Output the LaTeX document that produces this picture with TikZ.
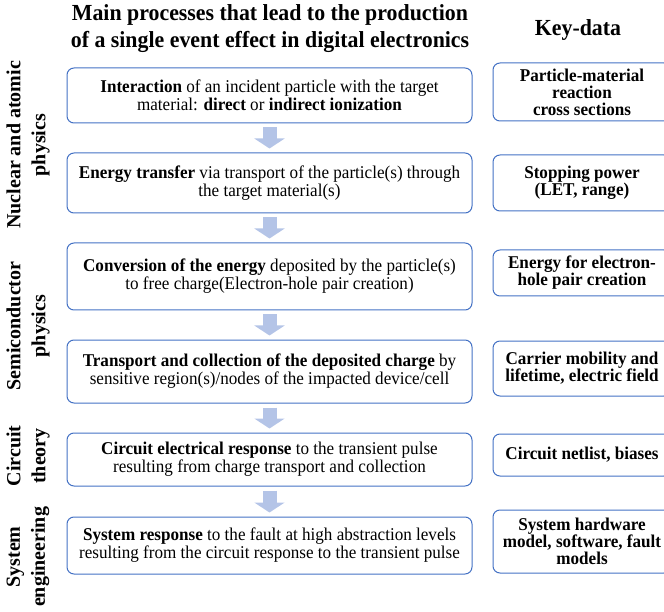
\documentclass[tikz,border=0pt]{standalone}
\usepackage{fontspec}
\setmainfont{Liberation Serif}[BoldFont={Liberation Serif Bold},FakeStretch=0.95]
\newfontfamily\sidefont{Liberation Serif}[BoldFont={Liberation Serif Bold}]
\usetikzlibrary{arrows.meta}
\definecolor{boxblue}{RGB}{68,114,196}
\definecolor{flowblue}{RGB}{180,196,231}

\begin{document}
\begin{tikzpicture}[x=1pt,y=-1pt,
    procbox/.style={draw=boxblue,line width=1pt,rounded corners=7pt,minimum width=405pt,align=center,inner xsep=3pt,font=\fontsize{18}{18}\selectfont},
    databox/.style={draw=boxblue,line width=1pt,rounded corners=7pt,minimum width=178pt,align=center,inner xsep=2pt,font=\fontsize{18}{17}\selectfont\bfseries},
    sidelabel/.style={rotate=90,align=center,font=\sidefont\bfseries\fontsize{20}{25}\selectfont},
    flowarrow/.style={color=flowblue,line width=14pt,-{Triangle[width=30pt,length=10pt]},shorten <=4pt,shorten >=4pt}]
    \clip (0,0) rectangle (664,612);

    % headings
    \node[font=\bfseries\fontsize{23}{27}\selectfont,align=center] (head) at (270,28.5) {Main processes that lead to the production\\of a single event effect in digital electronics};
    \node[font=\bfseries\fontsize{23}{27}\selectfont] (keyhead) at (578,30) {Key-data};

    % main chain
    \node[procbox,minimum height=55pt] (p1) at (269.5,95.5) {\textbf{Interaction} of an incident particle with the target\\material: \textbf{direct} or \textbf{indirect ionization}};
    \node[procbox,minimum height=60pt] (p2) at (269.5,183) {\textbf{Energy transfer} via transport of the particle(s) through\\the target material(s)};
    \node[procbox,minimum height=67pt] (p3) at (269.5,276.5) {\textbf{Conversion of the energy} deposited by the particle(s)\\to free charge(Electron-hole pair creation)};
    \node[procbox,minimum height=63pt] (p4) at (269.5,371.5) {\textbf{Transport and collection of the deposited charge} by\\sensitive region(s)/nodes of the impacted device/cell};
    \node[procbox,minimum height=53pt] (p5) at (269.5,459.5) {\textbf{Circuit electrical response} to the transient pulse\\resulting from charge transport and collection};
    \node[procbox,minimum height=57pt] (p6) at (269.5,545.5) {\textbf{System response} to the fault at high abstraction levels\\resulting from the circuit response to the transient pulse};

    % arrows between steps
    \draw[flowarrow] (p1.south) -- (p2.north);
    \draw[flowarrow] (p2.south) -- (p3.north);
    \draw[flowarrow] (p3.south) -- (p4.north);
    \draw[flowarrow] (p4.south) -- (p5.north);
    \draw[flowarrow] (p5.south) -- (p6.north);

    % key data column
    \node[databox,minimum height=58pt] (k1) at (582,92) {Particle-material\\reaction\\cross sections};
    \node[databox,minimum height=56pt] (k2) at (582,183) {Stopping power\\(LET, range)};
    \node[databox,minimum height=46pt] (k3) at (582,273) {Energy for electron-\\hole pair creation};
    \node[databox,minimum height=55pt] (k4) at (582,368.5) {Carrier mobility and\\lifetime, electric field};
    \node[databox,minimum height=42pt] (k5) at (582,455) {Circuit netlist, biases};
    \node[databox,minimum height=63pt] (k6) at (582,541.5) {System hardware\\model, software, fault\\models};

    % fields on the left
    \node[sidelabel] (f1) at (28,145) {Nuclear and atomic\\physics};
    \node[sidelabel] (f2) at (28,326) {Semiconductor\\physics};
    \node[sidelabel] (f3) at (28,456) {Circuit\\theory};
    \node[sidelabel] (f4) at (28,557) {System\\engineering};
\end{tikzpicture}
\end{document}
